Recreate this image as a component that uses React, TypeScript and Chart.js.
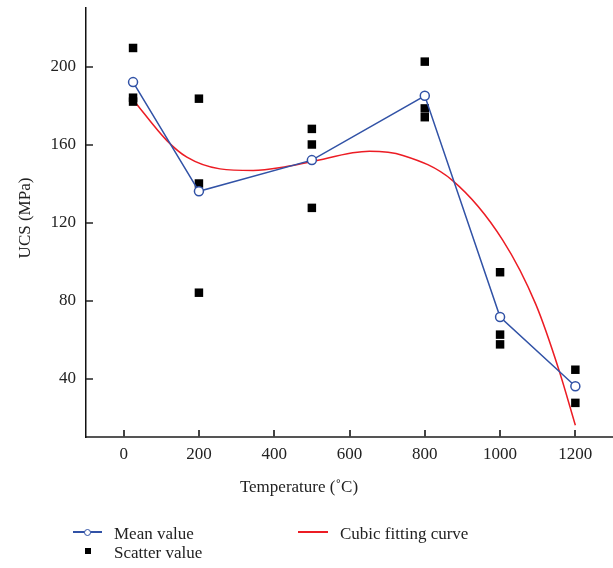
import React, { useEffect, useRef } from "react";
import { Chart, registerables } from "chart.js";

Chart.register(...registerables);

const temps = [25, 200, 500, 800, 1000, 1200];
const meanUCS = [192, 136, 152, 185, 71.5, 36];
const scatterT = [25, 25, 25, 200, 200, 200, 500, 500, 500, 800, 800, 800, 1000, 1000, 1000, 1200, 1200];
const scatterUCS = [209.5, 184, 182, 183.5, 140, 84, 168, 160, 127.5, 202.5, 178.5, 174, 94.5, 62.5, 57.5, 44.5, 27.5];
const fitT = [25, 115, 168, 256, 344, 433, 495, 653, 742, 874, 1007, 1095, 1157, 1200];
const fitUCS = [183, 162, 153.5, 147.5, 146.7, 148.7, 151, 156.5, 154.4, 141.5, 111, 78, 44, 16];
const xTicks = [0, 200, 400, 600, 800, 1000, 1200];
const yTicks = [40, 80, 120, 160, 200];

const BLUE = "#3152a6";
const RED = "#ec1c24";
const FONT = "'Liberation Serif', 'Times New Roman', serif";

const inwardTicks = {
  id: "inwardTicks",
  beforeDatasetsDraw(chart: any) {
    const { ctx, chartArea, scales } = chart;
    ctx.save();
    const xs = scales.x;
    ctx.strokeStyle = "#444";
    ctx.lineWidth = 2;
    xs.ticks.forEach((t: any) => {
      const px = Math.round(xs.getPixelForValue(t.value));
      ctx.beginPath();
      ctx.moveTo(px, chartArea.bottom);
      ctx.lineTo(px, chartArea.bottom - 7);
      ctx.stroke();
    });
    const ys = scales.y;
    ctx.strokeStyle = "#222";
    ctx.lineWidth = 1.5;
    ys.ticks.forEach((t: any) => {
      const py = Math.round(ys.getPixelForValue(t.value));
      ctx.beginPath();
      ctx.moveTo(chartArea.left, py);
      ctx.lineTo(chartArea.left + 7, py);
      ctx.stroke();
    });
    ctx.restore();
  },
};

export default function App() {
  const ref = useRef<HTMLCanvasElement | null>(null);

  useEffect(() => {
    if (!ref.current) return;
    const chart = new Chart(ref.current, {
      type: "line",
      data: {
        datasets: [
          {
            label: "Mean value",
            data: temps.map((t, i) => ({ x: t, y: meanUCS[i] })),
            borderColor: BLUE,
            borderWidth: 1.5,
            backgroundColor: "#ffffff",
            pointBorderColor: BLUE,
            pointBackgroundColor: "#ffffff",
            pointRadius: 4.5,
            pointBorderWidth: 1.5,
            tension: 0,
            order: 1,
          },
          {
            label: "Scatter value",
            data: scatterT.map((t, i) => ({ x: t, y: scatterUCS[i] })),
            showLine: false,
            pointStyle: "rect",
            pointRadius: 6,
            pointBackgroundColor: "#000",
            pointBorderColor: "#000",
            pointBorderWidth: 0,
            order: 2,
          },
          {
            label: "Cubic fitting curve",
            data: fitT.map((t, i) => ({ x: t, y: fitUCS[i] })),
            borderColor: RED,
            borderWidth: 1.5,
            pointRadius: 0,
            cubicInterpolationMode: "monotone",
            order: 3,
          },
        ],
      },
      options: {
        animation: false,
        responsive: false,
        layout: { autoPadding: false, padding: { top: 8, right: 0, bottom: 70, left: 0 } },
        plugins: {
          legend: { display: false },
          tooltip: { enabled: false },
        },
        scales: {
          x: {
            type: "linear",
            min: -100,
            max: 1300,
            afterBuildTicks: (s: any) => {
              s.ticks = xTicks.map((v) => ({ value: v }));
            },
            afterFit: (s: any) => {
              s.height = 61;
              s.paddingLeft = 0;
              s.paddingRight = 0;
            },
            grid: { drawOnChartArea: false, drawTicks: false },
            border: { color: "#555", width: 2 },
            ticks: {
              font: { size: 17, family: FONT },
              color: "#222",
              padding: 7,
              maxRotation: 0,
              autoSkip: false,
              callback: (v: any) => String(v),
            },
          },
          y: {
            type: "linear",
            min: 10,
            max: 230,
            afterBuildTicks: (s: any) => {
              s.ticks = yTicks.map((v) => ({ value: v }));
            },
            afterFit: (s: any) => {
              s.width = 86;
              s.paddingTop = 0;
              s.paddingBottom = 0;
            },
            grid: { drawOnChartArea: false, drawTicks: false },
            border: { color: "#111", width: 1.5 },
            ticks: {
              font: { size: 17, family: FONT },
              color: "#222",
              padding: 10,
              callback: (v: any) => String(v),
            },
          },
        },
      },
      plugins: [inwardTicks],
    } as any);
    return () => chart.destroy();
  }, []);

  const text: React.CSSProperties = {
    position: "absolute",
    fontFamily: FONT,
    fontSize: 17,
    lineHeight: "20px",
    color: "#222",
    whiteSpace: "nowrap",
  };

  return (
    <div style={{ position: "absolute", left: 0, top: 0, width: 613, height: 568, background: "#fff" }}>
      <canvas ref={ref} width={613} height={568} style={{ position: "absolute", left: 0, top: 0 }} />
      <div style={{ ...text, left: 0, width: 598, textAlign: "center", top: 477 }}>Temperature (˚C)</div>
      <div
        style={{
          ...text,
          left: -75,
          top: 208,
          width: 200,
          height: 20,
          textAlign: "center",
          transform: "rotate(-90deg)",
        }}
      >
        UCS (MPa)
      </div>
      {/* legend */}
      <div style={{ position: "absolute", left: 73, top: 531, width: 29, height: 1.5, background: BLUE }} />
      <div
        style={{
          position: "absolute",
          left: 84,
          top: 528.5,
          width: 5,
          height: 5,
          borderRadius: "50%",
          border: `1.3px solid ${BLUE}`,
          background: "#fff",
        }}
      />
      <div style={{ ...text, left: 114, top: 524 }}>Mean value</div>
      <div style={{ position: "absolute", left: 298, top: 531, width: 30, height: 1.5, background: RED }} />
      <div style={{ ...text, left: 340, top: 524 }}>Cubic fitting curve</div>
      <div style={{ position: "absolute", left: 85, top: 548, width: 6, height: 6, background: "#000" }} />
      <div style={{ ...text, left: 114, top: 543 }}>Scatter value</div>
    </div>
  );
}
